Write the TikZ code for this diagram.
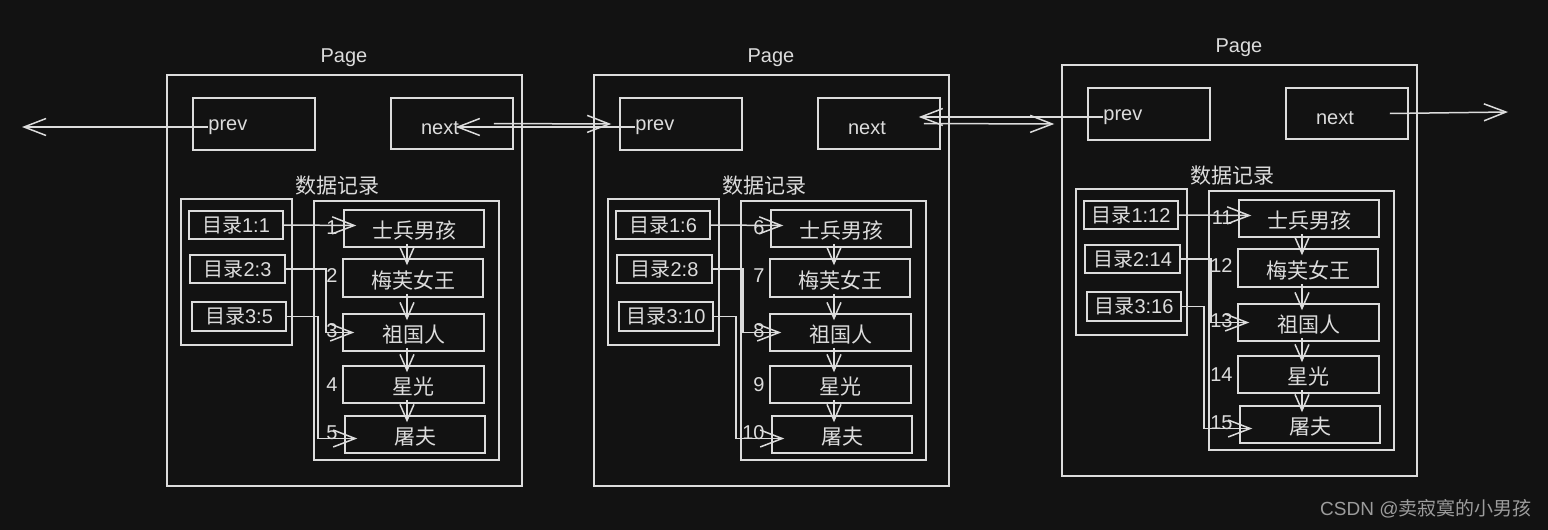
\documentclass[tikz,border=0pt]{standalone}
\usepackage{fontspec}
\setmainfont{Liberation Sans}
\newfontfamily\cjk{Noto Sans CJK SC}
\usetikzlibrary{arrows.meta}
\definecolor{bg}{HTML}{121212}
\definecolor{ink}{HTML}{DCDCDC}
\definecolor{wm}{HTML}{9C9C9C}
\tikzset{
  sz/.style 2 args={minimum width=#1*0.5pt, minimum height=#2*0.5pt},
  frame/.style={draw=ink, line width=0.75pt, inner sep=0pt},
  txt/.style={text=ink, font=\fontsize{10}{12}\selectfont, inner sep=0pt},
  rec/.style={frame, text=ink, font=\fontsize{10.5}{12}\selectfont\cjk, text height=10pt, text depth=0pt},
  arr/.style={draw=ink, line width=0.75pt, -{Straight Barb[length=11pt,width=8.5pt]}},
  varr/.style={draw=ink, line width=0.75pt, -{Straight Barb[length=8pt,width=7pt]}},
}
\newcommand\dirlabel[1]{{\cjk 目录}#1}
% one page: #1 name prefix, #2 shift, #3-#5 directory entries,
% #6 first record number, #7/#8 elbow offsets of the 2nd/3rd directory links
\newcommand\pagegroup[8]{%
\begin{scope}[shift={#2}]
  \node[frame, sz={355}{411}] (#1page) at (344.5,280.5) {};
  \node[txt] (#1title) at (344,58) {Page};
  \node[frame, sz={122}{52}] (#1prev) at (254,124) {};
  \node[txt, anchor=west] (#1prevtxt) at (208,127) {prev};
  \node[frame, sz={122}{51}] (#1next) at (452,123.5) {};
  \node[txt] (#1nexttxt) at (440,128) {next};
  \node[txt, font=\fontsize{10.5}{12}\selectfont\cjk] (#1head) at (337,186) {数据记录};
  % directory
  \node[frame, sz={111}{146}] (#1dirs) at (236.5,272) {};
  \node[frame, txt, sz={94}{28}] (#1d1) at (236,225) {\dirlabel{#3}};
  \node[frame, txt, sz={95}{28}] (#1d2) at (237.5,269) {\dirlabel{#4}};
  \node[frame, txt, sz={94}{29}] (#1d3) at (239,316.5) {\dirlabel{#5}};
  % records
  \node[frame, sz={185}{259}] (#1recs) at (406.5,330.5) {};
  \node[rec, sz={140}{37}] (#1r1) at (414,228.5) {士兵男孩};
  \node[rec, sz={140}{38}] (#1r2) at (413,278) {梅芙女王};
  \node[rec, sz={141}{37}] (#1r3) at (413.5,332.5) {祖国人};
  \node[rec, sz={141}{37}] (#1r4) at (413.5,384.5) {星光};
  \node[rec, sz={140}{37}] (#1r5) at (415,434.5) {屠夫};
  \node[txt, anchor=east] (#1n1) at (338,228) {\the\numexpr#6\relax};
  \node[txt, anchor=east] (#1n2) at (338,276) {\the\numexpr#6+1\relax};
  \node[txt, anchor=east] (#1n3) at (338,331) {\the\numexpr#6+2\relax};
  \node[txt, anchor=east] (#1n4) at (338,385) {\the\numexpr#6+3\relax};
  \node[txt, anchor=east] (#1n5) at (338,433) {\the\numexpr#6+4\relax};
  % record chain
  \draw[varr] ([xshift=-3.5pt,yshift=2pt]#1r1.south) -- ([xshift=-3pt,yshift=-3.5pt]#1r2.north);
  \draw[varr] ([xshift=-3pt,yshift=2pt]#1r2.south) -- ([xshift=-3.25pt,yshift=-3.5pt]#1r3.north);
  \draw[varr] ([xshift=-3.25pt,yshift=2pt]#1r3.south) -- ([xshift=-3.25pt,yshift=-3.5pt]#1r4.north);
  \draw[varr] ([xshift=-3.25pt,yshift=2pt]#1r4.south) -- ([xshift=-4pt,yshift=-3.5pt]#1r5.north);
  % directory links
  \draw[arr] (#1d1.east) -- ([xshift=6.5pt,yshift=1.5pt]#1r1.west);
  \draw[arr] (#1d2.east) -- ++(#7,0) |- ([xshift=6pt]#1r3.west);
  \draw[arr] (#1d3.east) -- ++(#8,0) |- ([xshift=6.5pt,yshift=-2pt]#1r5.west);
\end{scope}}

\begin{document}
\begin{tikzpicture}[x=0.5pt,y=-0.5pt]
  \fill[bg] (0,0) rectangle (1548,530);
  \useasboundingbox (0,0) rectangle (1548,530);

  \pagegroup{a}{(0,0)}{1:1}{2:3}{3:5}{1}{40}{31}
  \pagegroup{b}{(427,0)}{1:6}{2:8}{3:10}{6}{30}{22}
  \pagegroup{c}{(895,-10)}{1:12}{2:14}{3:16}{11}{30}{22}

  % links between pages
  \coordinate (leftend) at (22,127);
  \coordinate (rightend) at (1508,112);
  \draw[arr] (aprevtxt.west) -- (leftend);
  \draw[arr] ([xshift=-10pt]anext.east) -- ([xshift=-4pt]bprev.west);
  \draw[arr] (bprevtxt.west) -- ([xshift=-29pt,yshift=-1.75pt]anext.east);
  \draw[arr] ([xshift=-8.5pt]bnext.east) -- ([xshift=-16.5pt,yshift=-5pt]cprev.west);
  \draw[arr] (cprevtxt.west) -- ([xshift=-11pt,yshift=3.25pt]bnext.east);
  \draw[arr] ([xshift=-9.5pt]cnext.east) -- (rightend);

  \node[anchor=east, inner sep=0pt, text=wm, font=\fontsize{9.5}{11}\selectfont] (mark) at (1532,509)
    {CSDN @{\cjk 卖寂寞的小男孩}};
\end{tikzpicture}
\end{document}
